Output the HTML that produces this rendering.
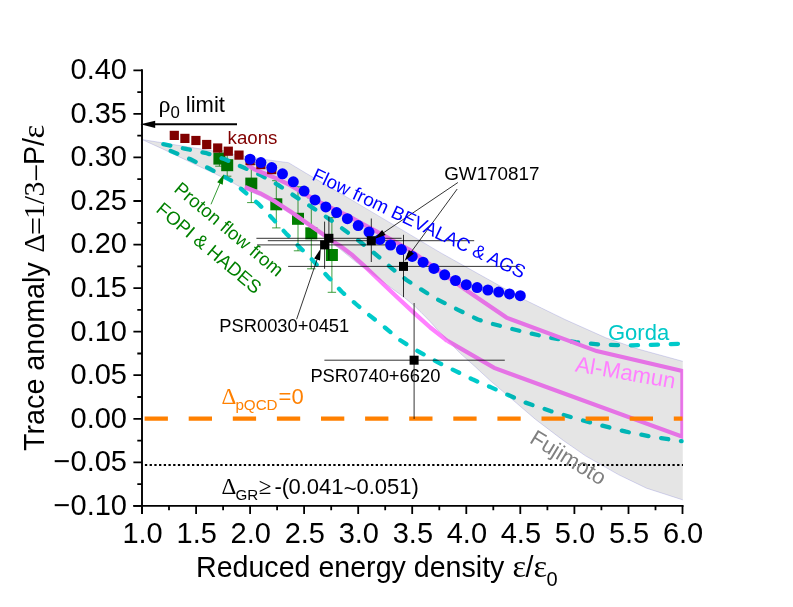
<!DOCTYPE html>
<html><head><meta charset="utf-8"><title>Trace anomaly</title>
<style>html,body{margin:0;padding:0;background:#fff;}svg{display:block;will-change:transform;}text{font-family:"Liberation Sans", sans-serif;}</style>
</head><body>
<svg width="793" height="607" viewBox="0 0 793 607">
<rect width="793" height="607" fill="#fff"/>
<defs><clipPath id="cp"><rect x="141" y="60" width="542.2" height="450"/></clipPath></defs>
<polyline points="682.8,361.3 638.7,349.2 605.9,337.8 565.0,319.5 525.5,300.2 440.0,252.4 360.0,204.9 306.2,173.3 288.6,162.7 265.3,159.5 246.4,156.3 142.0,139.5 150.0,143.2 162.6,148.9 175.2,155.0 187.8,160.9 200.4,167.0 213.1,172.8 220.6,176.6 232.0,182.3 243.3,188.8 244.8,189.4 260.3,195.7 275.4,204.0 290.5,213.9 305.7,224.5 320.8,235.0 330.0,241.7 340.0,249.0 357.3,263.1 374.6,275.9 391.9,288.4 404.6,297.7 415.1,306.6 421.2,312.5 430.3,321.8 445.4,338.4 460.5,353.6 475.7,367.2 489.5,380.0 507.7,395.6 535.5,419.4 563.2,440.4 585.4,455.8 618.7,474.8 646.5,488.2 682.8,499.9" fill="none" stroke="#ccccf2" stroke-width="0.7" stroke-linejoin="round"/>
<path d="M219.4 151.0V166.2M215.2 151.0h8.4M215.2 166.2h8.4" stroke="#008000" stroke-width="0.75" fill="none"/>
<path d="M227.2 154.2V176.2M223.0 154.2h8.4M223.0 176.2h8.4" stroke="#008000" stroke-width="0.75" fill="none"/>
<path d="M251.3 164.6V202.6M247.1 164.6h8.4M247.1 202.6h8.4" stroke="#008000" stroke-width="0.75" fill="none"/>
<path d="M276.3 180.7V227.9M272.1 180.7h8.4M272.1 227.9h8.4" stroke="#008000" stroke-width="0.75" fill="none"/>
<path d="M298.0 186.8V250.8M293.8 186.8h8.4M293.8 250.8h8.4" stroke="#008000" stroke-width="0.75" fill="none"/>
<path d="M311.3 197.8V268.8M307.1 197.8h8.4M307.1 268.8h8.4" stroke="#008000" stroke-width="0.75" fill="none"/>
<path d="M331.9 217.7V292.3M327.7 217.7h8.4M327.7 292.3h8.4" stroke="#008000" stroke-width="0.75" fill="none"/>
<rect x="213.4" y="152.6" width="12" height="12" fill="#008000"/>
<rect x="221.2" y="159.2" width="12" height="12" fill="#008000"/>
<rect x="245.3" y="177.6" width="12" height="12" fill="#008000"/>
<rect x="270.3" y="198.3" width="12" height="12" fill="#008000"/>
<rect x="292.0" y="212.8" width="12" height="12" fill="#008000"/>
<rect x="305.3" y="227.3" width="12" height="12" fill="#008000"/>
<rect x="325.9" y="249.0" width="12" height="12" fill="#008000"/>
<polyline points="163.3,144.1 184.5,148.6 206.7,153.2 224.8,159.3 243.0,167.3 261.2,175.4 278.4,185.1 295.1,196.4 311.7,207.1 328.4,218.4 345.0,230.5 360.7,242.2 378.7,256.8 393.0,269.4 406.5,280.0 434.2,297.8 458.0,309.8 477.9,319.5 490.6,323.4 525.2,332.3 550.4,337.8 575.7,342.1 600.9,344.6 626.1,345.4 651.3,344.9 679.8,343.7" fill="none" stroke="#00caca" stroke-width="4.3" stroke-linecap="round" stroke-linejoin="round" stroke-dasharray="7.2 12.8"/>
<polyline points="170.7,150.9 190.5,159.3 210.7,169.3 230.9,180.4 243.0,190.5 258.8,204.2 272.4,218.4 286.0,233.4 299.6,247.2 311.7,259.3 328.8,277.7 341.5,291.5 356.5,304.5 369.2,315.1 384.3,327.0 400.3,340.2 412.0,347.8 438.4,362.6 473.0,379.6 490.6,387.1 507.6,394.8 525.2,402.5 550.4,411.0 575.7,418.5 600.9,425.3 626.1,431.7 651.3,436.7 681.6,441.2" fill="none" stroke="#00caca" stroke-width="4.3" stroke-linecap="round" stroke-linejoin="round" stroke-dasharray="7.2 12.83"/>
<polyline clip-path="url(#cp)" points="465.9,289.9 506.5,317.6 596.6,351.1 682.4,371.0 682.4,436.6 494.2,367.9 447.5,340.9" fill="none" stroke="#ff80ff" stroke-width="4.2" stroke-linejoin="miter"/>
<polyline points="247.4,164.9 254.2,169.3 275.4,177.9 290.5,185.4 305.7,194.5 320.8,202.8 335.9,210.1 350.0,216.8 360.7,222.9 380.9,233.9 409.1,249.6 440.0,271.5 465.9,289.9" fill="none" stroke="#ff80ff" stroke-width="4.3" stroke-linejoin="round"/>
<polyline points="244.8,187.1 260.3,193.4 275.4,201.7 290.5,211.6 305.7,222.2 320.8,232.7 335.9,243.3 340.0,245.8 351.5,254.4 363.1,264.8 374.6,275.8 386.1,286.7 397.7,297.7 409.2,308.4 415.1,313.8 430.3,327.5 445.4,339.4 447.5,340.9" fill="none" stroke="#ff80ff" stroke-width="4.3" stroke-linejoin="round"/>
<polygon points="142.0,139.5 246.4,156.3 265.3,159.5 288.6,162.7 306.2,173.3 360.0,204.9 440.0,252.4 525.5,300.2 565.0,319.5 605.9,337.8 638.7,349.2 682.8,361.3 682.8,499.9 646.5,488.2 618.7,474.8 585.4,455.8 563.2,440.4 535.5,419.4 507.7,395.6 489.5,380.0 475.7,367.2 460.5,353.6 445.4,338.4 430.3,321.8 421.2,312.5 415.1,306.6 404.6,297.7 391.9,288.4 374.6,275.9 357.3,263.1 340.0,249.0 330.0,241.7 320.8,235.0 305.7,224.5 290.5,213.9 275.4,204.0 260.3,195.7 244.8,189.4 243.3,188.8 232.0,182.3 220.6,176.6 213.1,172.8 200.4,167.0 187.8,160.9 175.2,155.0 162.6,148.9 150.0,143.2" fill="#000" fill-opacity="0.1"/>
<rect x="169.7" y="130.8" width="9.2" height="9.2" fill="#800000"/>
<rect x="180.3" y="133.8" width="9.2" height="9.2" fill="#800000"/>
<rect x="191.3" y="135.9" width="9.2" height="9.2" fill="#800000"/>
<rect x="202.1" y="139.9" width="9.2" height="9.2" fill="#800000"/>
<rect x="213.1" y="143.4" width="9.2" height="9.2" fill="#800000"/>
<rect x="223.7" y="146.6" width="9.2" height="9.2" fill="#800000"/>
<rect x="234.4" y="150.5" width="9.2" height="9.2" fill="#800000"/>
<rect x="245.5" y="156.0" width="9.2" height="9.2" fill="#800000"/>
<rect x="256.3" y="160.0" width="9.2" height="9.2" fill="#800000"/>
<rect x="267.1" y="165.0" width="9.2" height="9.2" fill="#800000"/>
<line x1="144.6" y1="418.6" x2="682.5" y2="418.6" stroke="#ff8000" stroke-width="4.2" stroke-dasharray="23.3 20.8"/>
<line x1="144.9" y1="465.1" x2="683" y2="465.1" stroke="#000" stroke-width="2" stroke-dasharray="2.3 2.41"/>
<path d="M256.4 238.3H401.6M328.9 216.8V260.0" stroke="#000" stroke-width="0.8" fill="none"/>
<path d="M257.1 244.9H386.0M324.6 221.6V268.8" stroke="#000" stroke-width="0.8" fill="none"/>
<path d="M267.8 240.7H474.2M371.3 218.5V262.0" stroke="#000" stroke-width="0.8" fill="none"/>
<path d="M288.1 266.4H519.6M403.5 234.8V297.1" stroke="#000" stroke-width="0.8" fill="none"/>
<path d="M324.4 360.2H504.8M414.1 303.0V418.9" stroke="#000" stroke-width="0.8" fill="none"/>
<circle cx="250.1" cy="159.2" r="5.5" fill="#0000ff"/>
<circle cx="260.9" cy="162.6" r="5.5" fill="#0000ff"/>
<circle cx="271.7" cy="167.6" r="5.5" fill="#0000ff"/>
<circle cx="282.5" cy="173.8" r="5.5" fill="#0000ff"/>
<circle cx="293.3" cy="181.8" r="5.5" fill="#0000ff"/>
<circle cx="304.1" cy="191.1" r="5.5" fill="#0000ff"/>
<circle cx="315.0" cy="199.9" r="5.5" fill="#0000ff"/>
<circle cx="325.8" cy="206.9" r="5.5" fill="#0000ff"/>
<circle cx="336.6" cy="212.6" r="5.5" fill="#0000ff"/>
<circle cx="347.4" cy="218.7" r="5.5" fill="#0000ff"/>
<circle cx="358.2" cy="225.6" r="5.5" fill="#0000ff"/>
<circle cx="369.0" cy="232.1" r="5.5" fill="#0000ff"/>
<circle cx="379.8" cy="239.4" r="5.5" fill="#0000ff"/>
<circle cx="390.6" cy="245.0" r="5.5" fill="#0000ff"/>
<circle cx="401.4" cy="249.6" r="5.5" fill="#0000ff"/>
<circle cx="412.2" cy="256.4" r="5.5" fill="#0000ff"/>
<circle cx="423.1" cy="262.2" r="5.5" fill="#0000ff"/>
<circle cx="433.9" cy="268.4" r="5.5" fill="#0000ff"/>
<circle cx="444.7" cy="274.8" r="5.5" fill="#0000ff"/>
<circle cx="455.5" cy="280.5" r="5.5" fill="#0000ff"/>
<circle cx="466.3" cy="284.7" r="5.5" fill="#0000ff"/>
<circle cx="477.1" cy="287.6" r="5.5" fill="#0000ff"/>
<circle cx="487.9" cy="290.0" r="5.5" fill="#0000ff"/>
<circle cx="498.7" cy="292.1" r="5.5" fill="#0000ff"/>
<circle cx="509.5" cy="293.9" r="5.5" fill="#0000ff"/>
<circle cx="520.3" cy="295.7" r="5.5" fill="#0000ff"/>
<rect x="324.4" y="233.8" width="9" height="9" fill="#000"/>
<rect x="320.1" y="240.4" width="9" height="9" fill="#000"/>
<rect x="366.8" y="236.2" width="9" height="9" fill="#000"/>
<rect x="399.0" y="261.9" width="9" height="9" fill="#000"/>
<rect x="409.6" y="355.7" width="9" height="9" fill="#000"/>
<line x1="457.9" y1="182.5" x2="383.0" y2="233.1" stroke="#000" stroke-width="0.8"/>
<polygon points="374.3,239.0 382.1,230.0 385.6,235.1" fill="#000"/>
<line x1="457.2" y1="189.0" x2="410.8" y2="252.5" stroke="#000" stroke-width="0.8"/>
<polygon points="404.6,261.0 408.9,249.9 413.9,253.5" fill="#000"/>
<line x1="296.6" y1="319.3" x2="317.4" y2="258.5" stroke="#000" stroke-width="0.8"/>
<polygon points="320.8,248.6 320.0,260.5 314.1,258.5" fill="#000"/>
<line x1="211.0" y1="204.3" x2="220.3" y2="182.6" stroke="#008000" stroke-width="0.8"/>
<polygon points="223.9,174.3 222.7,184.7 217.2,182.3" fill="#008000"/>
<line x1="237" y1="124.3" x2="152" y2="124.3" stroke="#000" stroke-width="2"/>
<polygon points="140.4,124.3 155.2,120.7 155.2,127.9" fill="#000"/>
<path d="M142 69.2V514.1M133.3 505.9H683.6" stroke="#000" stroke-width="1.9" fill="none"/>
<path d="M133.4 505.9H142M137.3 484.1H142M133.4 462.4H142M137.3 440.6H142M133.4 418.8H142M137.3 397.0H142M133.4 375.2H142M137.3 353.5H142M133.4 331.7H142M137.3 309.9H142M133.4 288.1H142M137.3 266.3H142M133.4 244.6H142M137.3 222.8H142M133.4 201.0H142M137.3 179.2H142M133.4 157.4H142M137.3 135.7H142M133.4 113.9H142M137.3 92.1H142M133.4 70.3H142M142.0 505.9V514M169.0 505.9V510.2M196.1 505.9V514M223.1 505.9V510.2M250.1 505.9V514M277.1 505.9V510.2M304.1 505.9V514M331.2 505.9V510.2M358.2 505.9V514M385.2 505.9V510.2M412.2 505.9V514M439.3 505.9V510.2M466.3 505.9V514M493.3 505.9V510.2M520.3 505.9V514M547.4 505.9V510.2M574.4 505.9V514M601.4 505.9V510.2M628.5 505.9V514M655.5 505.9V510.2M682.5 505.9V514" stroke="#000" stroke-width="1.8" fill="none"/>
<text x="127" y="514.7" font-size="29" text-anchor="end">−0.10</text>
<text x="127" y="471.2" font-size="29" text-anchor="end">−0.05</text>
<text x="127" y="427.6" font-size="29" text-anchor="end">0.00</text>
<text x="127" y="384.0" font-size="29" text-anchor="end">0.05</text>
<text x="127" y="340.5" font-size="29" text-anchor="end">0.10</text>
<text x="127" y="296.9" font-size="29" text-anchor="end">0.15</text>
<text x="127" y="253.4" font-size="29" text-anchor="end">0.20</text>
<text x="127" y="209.8" font-size="29" text-anchor="end">0.25</text>
<text x="127" y="166.2" font-size="29" text-anchor="end">0.30</text>
<text x="127" y="122.7" font-size="29" text-anchor="end">0.35</text>
<text x="127" y="79.1" font-size="29" text-anchor="end">0.40</text>
<text x="142.6" y="542.6" font-size="29" text-anchor="middle">1.0</text>
<text x="196.7" y="542.6" font-size="29" text-anchor="middle">1.5</text>
<text x="250.7" y="542.6" font-size="29" text-anchor="middle">2.0</text>
<text x="304.8" y="542.6" font-size="29" text-anchor="middle">2.5</text>
<text x="358.8" y="542.6" font-size="29" text-anchor="middle">3.0</text>
<text x="412.9" y="542.6" font-size="29" text-anchor="middle">3.5</text>
<text x="466.9" y="542.6" font-size="29" text-anchor="middle">4.0</text>
<text x="520.9" y="542.6" font-size="29" text-anchor="middle">4.5</text>
<text x="575.0" y="542.6" font-size="29" text-anchor="middle">5.0</text>
<text x="629.1" y="542.6" font-size="29" text-anchor="middle">5.5</text>
<text x="683.1" y="542.6" font-size="29" text-anchor="middle">6.0</text>
<text x="196" y="576.6" font-size="28.6">Reduced energy density<tspan x="512.6" font-family='"Liberation Serif", serif' font-size="32.4">ε</tspan><tspan x="525.4">/</tspan><tspan x="533.5" font-family='"Liberation Serif", serif' font-size="32.4">ε</tspan><tspan x="546.5" y="585.5" font-size="20">0</tspan></text>
<text transform="translate(43.5 450.9) rotate(-90)" font-size="28.7">Trace anomaly<tspan x="198.2" font-family='"Liberation Serif", serif' font-size="29.8">Δ</tspan><tspan x="215.8" dy="3" font-family='"Liberation Serif", serif' font-size="32">=</tspan><tspan x="231.9" dy="-3" font-family='"Liberation Serif", serif' font-size="30">1</tspan><tspan x="246.7" font-family='"Liberation Serif", serif' font-size="29.5">/</tspan><tspan x="254.5" font-family='"Liberation Serif", serif' font-size="30">3</tspan><tspan x="268.9" dy="3" font-family='"Liberation Serif", serif' font-size="32">−</tspan><tspan x="286.0" dy="-3">P</tspan><tspan x="305.0">/</tspan><tspan x="312.3" font-family='"Liberation Serif", serif' font-size="32.4">ε</tspan></text>
<text x="158.6" y="111.8" font-size="22"><tspan font-family='"Liberation Serif", serif' font-size="24">ρ</tspan><tspan font-size="16.8" dy="6.6">0</tspan><tspan dy="-6.6" x="185.8">limit</tspan></text>
<text x="227.6" y="143.5" font-size="18.7" fill="#800000">kaons</text>
<text x="444.2" y="179.5" font-size="18.85">GW170817</text>
<text x="219.3" y="331.8" font-size="18.33">PSR0030+0451</text>
<text x="310.4" y="381.7" font-size="18.33">PSR0740+6620</text>
<text x="608" y="339.8" font-size="22" fill="#00c8c8">Gorda</text>
<text transform="translate(574.5 371.2) rotate(9.9)" font-size="22.2" fill="#ff80ff">Al-Mamun</text>
<text transform="translate(528.4 442.0) rotate(31.3)" font-size="22" fill="#808080">Fujimoto</text>
<text transform="translate(311.0 179.2) rotate(25.3)" font-size="18.68" fill="#0000ff">Flow from BEVALAC &amp; AGS</text>
<text transform="translate(173.0 190.7) rotate(39.9)" font-size="18.6" fill="#008000">Proton flow from</text>
<text transform="translate(155.0 211.1) rotate(39.9)" font-size="18.6" fill="#008000">FOPI &amp; HADES</text>
<text x="221.5" y="403.9" font-size="22" fill="#ff8000"><tspan font-family='"Liberation Serif", serif' font-size="23">Δ</tspan><tspan x="235.4" font-size="15.2" dy="6.4">pQCD</tspan><tspan dy="-6.4" x="278.6">=0</tspan></text>
<text x="221.5" y="494.1" font-size="22"><tspan font-family='"Liberation Serif", serif' font-size="23">Δ</tspan><tspan x="235.4" font-size="15.2" dy="5.6">GR</tspan><tspan dy="-5.6" x="258.7" font-family='"Liberation Serif", serif' font-size="23">≥</tspan><tspan x="274.4">-</tspan><tspan x="281.7">(</tspan><tspan x="288.4">0.041</tspan><tspan x="343.7" dy="1.7">~</tspan><tspan dy="-1.7" x="356.5">0.051)</tspan></text>
</svg></body></html>
